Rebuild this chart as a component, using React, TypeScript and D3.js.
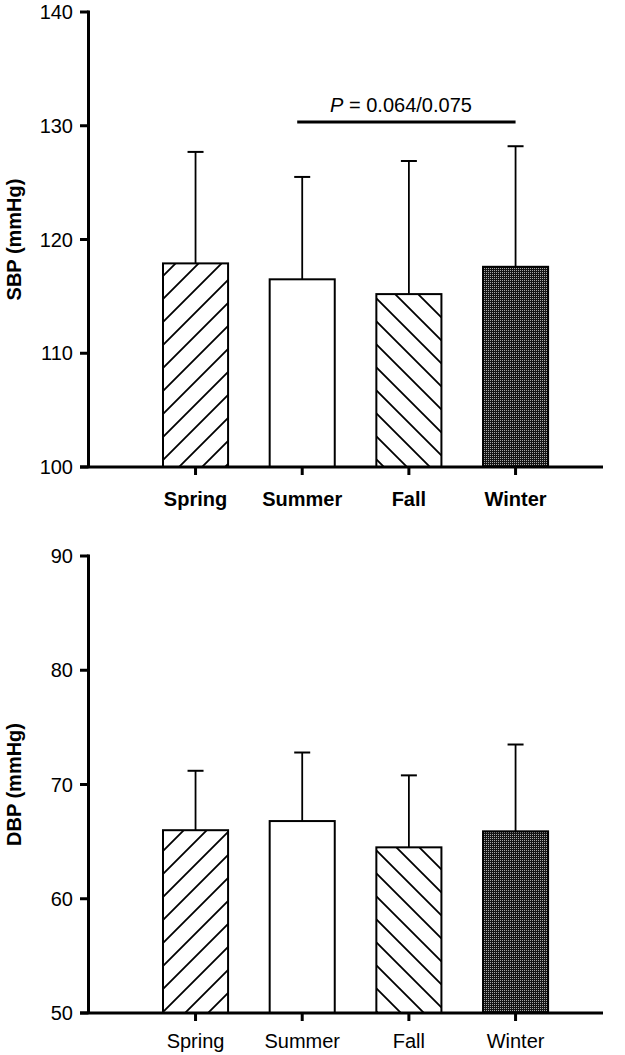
import React from "react";
import * as d3 from "d3";

const seasons = ["Spring", "Summer", "Fall", "Winter"];
const sbpMean = [117.9, 116.5, 115.2, 117.6];
const sbpUpper = [127.7, 125.5, 126.9, 128.2];
const dbpMean = [66.0, 66.8, 64.5, 65.9];
const dbpUpper = [71.2, 72.8, 70.8, 73.5];
const sbpTicks = [100, 110, 120, 130, 140];
const dbpTicks = [50, 60, 70, 80, 90];
const fills = ["url(#hatchUp)", "#ffffff", "url(#hatchDown)", "url(#stipple)"];
const pLabel = "= 0.064/0.075";

const FONT = "'Liberation Sans', Arial, Helvetica, sans-serif";

type PanelProps = {
  means: number[];
  uppers: number[];
  ticks: number[];
  domain: [number, number];
  range: [number, number];
  title: string;
  bold: boolean;
  labelOffset: number;
  showP?: boolean;
};

const xScale = d3
  .scaleBand<string>()
  .domain(seasons)
  .range([142.2, 568.9])
  .paddingInner(0.39)
  .paddingOuter(0.195);

function Panel({ means, uppers, ticks, domain, range, title, bold, labelOffset, showP }: PanelProps) {
  const y = d3.scaleLinear().domain(domain).range(range);
  const axisX = 88.5;
  const base = y(domain[0]);
  const top = y(domain[1]);
  const bw = xScale.bandwidth();
  const cx = (s: string) => (xScale(s) as number) + bw / 2;
  const midY = (base + top) / 2;
  return (
    <g>
      {seasons.map((s, i) => (
        <g key={s}>
          <line x1={cx(s)} x2={cx(s)} y1={y(means[i])} y2={y(uppers[i])} stroke="#000" strokeWidth={1.8} />
          <line x1={cx(s) - 8} x2={cx(s) + 8} y1={y(uppers[i])} y2={y(uppers[i])} stroke="#000" strokeWidth={2} />
          <rect
            x={xScale(s)}
            y={y(means[i])}
            width={bw}
            height={base - y(means[i])}
            fill={fills[i]}
            stroke="#000"
            strokeWidth={2}
          />
        </g>
      ))}
      <line x1={axisX} x2={axisX} y1={top - 1.5} y2={base} stroke="#000" strokeWidth={3} />
      {ticks.map((t) => (
        <g key={t}>
          <line x1={80} x2={axisX} y1={y(t)} y2={y(t)} stroke="#000" strokeWidth={3} />
          <text x={73} y={y(t)} dy="0.36em" textAnchor="end" fontSize={20} fontFamily={FONT} fill="#000">
            {t}
          </text>
        </g>
      ))}
      <line x1={80} x2={603} y1={base} y2={base} stroke="#000" strokeWidth={3} />
      {seasons.map((s) => (
        <g key={s}>
          <line x1={cx(s)} x2={cx(s)} y1={base} y2={base + 8} stroke="#000" strokeWidth={3} />
          <text
            x={cx(s)}
            y={base + labelOffset}
            textAnchor="middle"
            fontSize={20}
            fontWeight={bold ? "bold" : "normal"}
            fontFamily={FONT}
            fill="#000"
          >
            {s}
          </text>
        </g>
      ))}
      <text
        transform={`translate(21,${midY}) rotate(-90)`}
        textAnchor="middle"
        fontSize={20}
        fontWeight="bold"
        fontFamily={FONT}
        fill="#000"
      >
        {title}
      </text>
      {showP && (
        <g>
          <line x1={cx("Summer") - 5} x2={cx("Winter")} y1={122} y2={122} stroke="#000" strokeWidth={3} />
          <text x={401} y={112} textAnchor="middle" fontSize={20} fontFamily={FONT} fill="#000">
            <tspan fontStyle="italic">P</tspan> {pLabel}
          </text>
        </g>
      )}
    </g>
  );
}

export default function App() {
  return (
    <svg
      width={625}
      height={1055}
      style={{ position: "absolute", left: 0, top: 0, background: "#fff" }}
    >
      <defs>
        <pattern id="hatchUp" patternUnits="userSpaceOnUse" width={23} height={23} x={163} y={0}>
          <rect width={23} height={23} fill="#fff" />
          <path d="M-2,25 L25,-2 M-2,2 L2,-2 M21,25 L25,21" stroke="#000" strokeWidth={1.8} />
        </pattern>
        <pattern id="hatchDown" patternUnits="userSpaceOnUse" width={23} height={23} x={377} y={0}>
          <rect width={23} height={23} fill="#fff" />
          <path d="M-2,-2 L25,25 M21,-2 L25,2 M-2,21 L2,25" stroke="#000" strokeWidth={1.8} />
        </pattern>
        <pattern id="stipple" patternUnits="userSpaceOnUse" width={2} height={2}>
          <rect width={2} height={2} fill="#151515" />
          <rect width={1} height={1} fill="#a8a8a8" />
        </pattern>
      </defs>
      <Panel
        means={sbpMean}
        uppers={sbpUpper}
        ticks={sbpTicks}
        domain={[100, 140]}
        range={[467, 12]}
        title="SBP (mmHg)"
        bold={true}
        labelOffset={39}
        showP={true}
      />
      <Panel
        means={dbpMean}
        uppers={dbpUpper}
        ticks={dbpTicks}
        domain={[50, 90]}
        range={[1013, 556]}
        title="DBP (mmHg)"
        bold={false}
        labelOffset={35}
      />
    </svg>
  );
}
